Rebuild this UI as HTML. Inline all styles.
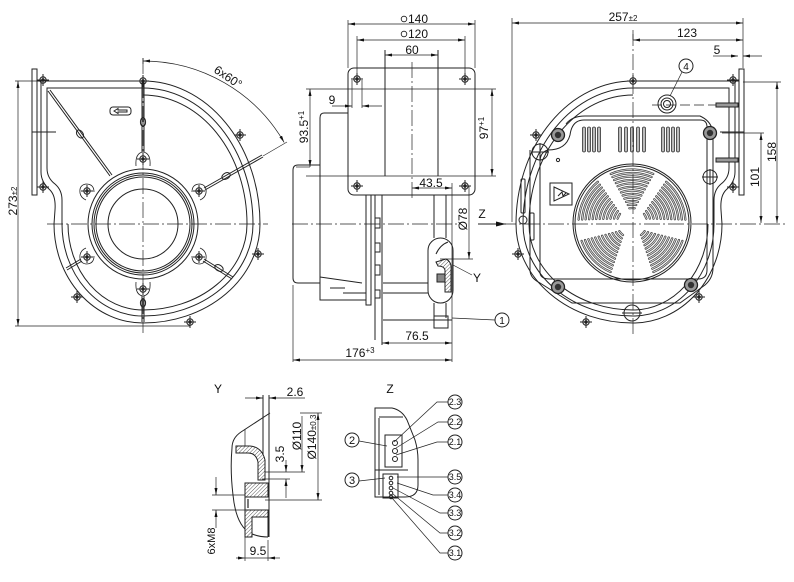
<!DOCTYPE html>
<html><head><meta charset="utf-8"><style>
html,body{margin:0;padding:0;background:#fff}
svg{display:block}
text{font-family:"Liberation Sans",Arial,sans-serif;fill:#111}
</style></head><body>
<svg width="794" height="582" viewBox="0 0 794 582" xmlns="http://www.w3.org/2000/svg" xmlns:xlink="http://www.w3.org/1999/xlink">
<defs>
<marker id="a" viewBox="0 0 7 3" refX="7" refY="1.5" markerWidth="7" markerHeight="3" markerUnits="userSpaceOnUse" orient="auto-start-reverse"><path d="M0 0L7 1.5L0 3z" fill="#111"/></marker>
<marker id="b" viewBox="0 0 10 5" refX="10" refY="2.5" markerWidth="10" markerHeight="5" markerUnits="userSpaceOnUse" orient="auto"><path d="M0 0L10 2.5L0 5z" fill="#111"/></marker>
<pattern id="h" width="2.6" height="2.6" patternUnits="userSpaceOnUse" patternTransform="rotate(45)"><rect width="2.6" height="2.6" fill="#fff"/><line x1="0" y1="0" x2="0" y2="2.6" stroke="#333" stroke-width="0.8"/></pattern>
<g id="lug"><circle r="3.2"/><path d="M-6 0H6M0-6V6"/><circle r="1.2"/></g>
<g id="hs">
 <rect x="32" y="69" width="5" height="126"/>
 <path d="M37 81H143A117 143 0 0 1 260 224A117 99 0 0 1 143 323A89 99 0 0 1 54 224L55 210Q56 196 50 190Q41 182 41 172V81"/>
 <path d="M47 88H143A110 136 0 0 1 253 224A110 92 0 0 1 143 316A81 92 0 0 1 62 224V200Q62 190 55 184Q47 178 47 168Z"/>
 <path d="M143 95A104 129 0 0 1 247 224A104 86 0 0 1 143 310A75 86 0 0 1 68 224"/>
 <path d="M32 132H56"/>
 <use xlink:href="#lug" x="143" y="81"/>
 <use xlink:href="#lug" x="43" y="80"/>
 <use xlink:href="#lug" x="43" y="187"/>
 <use xlink:href="#lug" x="240" y="135"/>
 <use xlink:href="#lug" x="258" y="254"/>
 <use xlink:href="#lug" x="190" y="322"/>
 <use xlink:href="#lug" x="77" y="297"/>
</g>
<path id="sec" d="M-2.6 -14.8A15 15 0 0 1 2.6 -14.8M-4.2 -18A18.5 18.5 0 0 1 4.2 -18M-5.9 -21.2A22 22 0 0 1 5.9 -21.2M-7.6 -24.3A25.5 25.5 0 0 1 7.6 -24.3M-9.3 -27.5A29 29 0 0 1 9.3 -27.5M-11 -30.6A32.5 32.5 0 0 1 11 -30.6M-12.7 -33.7A36 36 0 0 1 12.7 -33.7M-14.4 -36.8A39.5 39.5 0 0 1 14.4 -36.8M-16.1 -39.9A43 43 0 0 1 16.1 -39.9M-17.8 -43A46.5 46.5 0 0 1 17.8 -43M-19.5 -46A50 50 0 0 1 19.5 -46M-21.2 -49.1A53.5 53.5 0 0 1 21.2 -49.1"/>
<g id="grl"><use xlink:href="#sec"/><use xlink:href="#sec" transform="rotate(63)"/><use xlink:href="#sec" transform="rotate(133)"/><use xlink:href="#sec" transform="rotate(-133)"/><use xlink:href="#sec" transform="rotate(-63)"/></g>
<g id="scr"><circle r="6.5" fill="#999" stroke="#222" stroke-width="1.3"/><circle r="3.2" fill="#333"/></g>
</defs>

<!-- ============ LEFT VIEW ============ -->
<g fill="none" stroke="#222" stroke-width="1">
 <use xlink:href="#hs"/>
 <circle cx="143" cy="224" r="35"/>
 <circle cx="143" cy="224" r="47"/>
 <circle cx="143" cy="224" r="49"/>
 <circle cx="143" cy="224" r="51"/>
 <circle cx="143" cy="224" r="55"/>
 <g>
  <use xlink:href="#lug" x="143" y="159"/>
  <use xlink:href="#lug" x="199" y="191"/>
  <use xlink:href="#lug" x="199" y="257"/>
  <use xlink:href="#lug" x="143" y="289"/>
  <use xlink:href="#lug" x="87" y="257"/>
  <use xlink:href="#lug" x="87" y="191"/>
 </g>
 <g stroke-width="0.8">
  <path d="M136 166Q135 153 143 152Q151 153 150 166"/>
  <path d="M192 192Q192 184 200 184Q207 185 206 193Q205 198 200 200"/>
  <path d="M192 256Q192 264 200 264Q207 263 206 255Q205 250 200 248"/>
  <path d="M136 282Q135 295 143 296Q151 295 150 282"/>
  <path d="M94 256Q94 264 86 264Q79 263 80 255Q81 250 86 248"/>
  <path d="M94 192Q94 184 86 184Q79 185 80 193Q81 198 86 200"/>
 </g>
 <path d="M142 152V82M144 152V82"/>
 <ellipse cx="143" cy="122" rx="2.6" ry="4.5"/>
 <path d="M204 188L262 155M205 190L263 157"/>
 <path d="M263 156L287 142" stroke-width="0.6"/>
 <ellipse cx="226" cy="176" rx="3" ry="4.5" transform="rotate(60 226 176)"/>
 <path d="M204 259L233 277M203 261L232 279"/>
 <ellipse cx="219" cy="268" rx="3" ry="4.5" transform="rotate(-60 219 268)"/>
 <path d="M142 296V322M144 296V322"/>
 <ellipse cx="143" cy="303" rx="2.6" ry="4"/>
 <path d="M81 259L66 268M82 261L67 270"/>
 <path d="M110 176L48 91M112 175L50 90"/>
 <ellipse cx="80" cy="134" rx="3" ry="4.5" transform="rotate(-36 80 134)"/>
 <rect x="110" y="107" width="21" height="8" rx="3"/>
 <path d="M114 111L118 108.5V110H127V112H118V113.5Z"/>
 <path d="M47 224H268M143 58V333" stroke-width="0.7" stroke-dasharray="16 3 2 3"/>
 <path d="M143 61A163 163 0 0 1 284.2 142.5" stroke-width="0.7" marker-start="url(#a)" marker-end="url(#a)"/>
 <path d="M143 58V64" stroke-width="0.7"/>
 <path d="M15 81H43M15 326H190" stroke-width="0.7"/>
 <path d="M18 81V326" stroke-width="0.7" marker-start="url(#a)" marker-end="url(#a)"/>
</g>
<text transform="translate(228,77) rotate(34)" font-size="12" text-anchor="middle" dy="4">6x60°</text>
<text transform="translate(17,201) rotate(-90)" font-size="12" text-anchor="middle">273<tspan font-size="8">±2</tspan></text>

<!-- ============ MIDDLE VIEW ============ -->
<g fill="none" stroke="#222" stroke-width="1">
 <rect x="348" y="68" width="127" height="127" rx="6"/>
 <use xlink:href="#lug" x="357" y="79"/>
 <use xlink:href="#lug" x="465" y="79"/>
 <use xlink:href="#lug" x="357" y="186"/>
 <use xlink:href="#lug" x="465" y="186"/>
 <path d="M385 50V176M438 50V176"/>
 <path d="M348 113H324Q320 113 320 118V300H366"/>
 <path d="M320 165H298Q293 165 293 170V278Q293 283 298 283H320"/>
 <path d="M320 277L362 283M343 293H366M330 288H345"/>
 <rect x="366" y="195" width="5" height="110"/>
 <path d="M375 195V340M382 195V345"/>
 <path d="M375 218h5v10h-5M375 243h5v9h-5M375 265h5v10h-5M375 290h5v8h-5"/>
 <path d="M434 195V238M446 195V238M446 303V318M434 303V318"/>
 <path d="M383 283H428M383 293H428M383 320H452"/>
 <rect x="434" y="316" width="14" height="12"/>
 <rect x="428" y="238" width="25" height="65" rx="12.5"/>
 <path d="M436 254Q440 245 448 242"/>
 <path d="M436 262L446 259Q452 262 451 270V292H445V270Q444 266 438 266Z" fill="url(#h)"/>
 <rect x="437" y="274" width="8" height="8" fill="#888"/>
 <path d="M348 20V68M475 20V68M357 36V76M465 36V76" stroke-width="0.7"/>
 <path d="M306 89H496M306 176H496" stroke-width="0.7"/>
 <path d="M352 80V108M362 80V108" stroke-width="0.7"/>
 <path d="M452 183V362M293 285V362" stroke-width="0.7"/>
 <path d="M440 259H473" stroke-width="0.7"/>
 <path d="M348 24H475" stroke-width="0.7" marker-start="url(#a)" marker-end="url(#a)"/>
 <path d="M357 40H465" stroke-width="0.7" marker-start="url(#a)" marker-end="url(#a)"/>
 <path d="M385 55H438" stroke-width="0.7" marker-start="url(#a)" marker-end="url(#a)"/>
 <path d="M310 89V167" stroke-width="0.7" marker-start="url(#a)" marker-end="url(#a)"/>
 <path d="M310 167H296" stroke-width="0.7"/>
 <path d="M492 89V176" stroke-width="0.7" marker-start="url(#a)" marker-end="url(#a)"/>
 <path d="M332 106H352" stroke-width="0.7" marker-end="url(#a)"/>
 <path d="M382 106H362" stroke-width="0.7" marker-end="url(#a)"/>
 <path d="M412 188H452" stroke-width="0.7" marker-start="url(#a)" marker-end="url(#a)"/>
 <path d="M469 186V259" stroke-width="0.7" marker-end="url(#a)"/>
 <path d="M382 343H452" stroke-width="0.7" marker-start="url(#a)" marker-end="url(#a)"/>
 <path d="M293 360H452" stroke-width="0.7" marker-start="url(#a)" marker-end="url(#a)"/>
 <path d="M292 224H458M412 62V200" stroke-width="0.7" stroke-dasharray="16 3 2 3"/>
 <path d="M478 224H506" stroke-width="0.9" marker-end="url(#b)"/>
 <path d="M453 265L472 275M452 318L495 320" stroke-width="0.7"/>
 <circle cx="502" cy="320" r="7"/>
</g>
<circle cx="404" cy="19" r="2.8" fill="none" stroke="#111" stroke-width="0.8"/>
<text x="408" y="23" font-size="12">140</text>
<circle cx="404" cy="34" r="2.8" fill="none" stroke="#111" stroke-width="0.8"/>
<text x="408" y="38" font-size="12">120</text>
<text x="412" y="54" font-size="12" text-anchor="middle">60</text>
<text x="332" y="104" font-size="12" text-anchor="middle">9</text>
<text transform="translate(308,127) rotate(-90)" font-size="12" text-anchor="middle">93.5<tspan font-size="8" dy="-4">+1</tspan></text>
<text transform="translate(488,128) rotate(-90)" font-size="12" text-anchor="middle">97<tspan font-size="8" dy="-4">+1</tspan></text>
<text x="431" y="187" font-size="12" text-anchor="middle">43.5</text>
<text transform="translate(467,219) rotate(-90)" font-size="12" text-anchor="middle">Ø78</text>
<text x="482" y="218" font-size="12" text-anchor="middle">Z</text>
<text x="477" y="282" font-size="12" text-anchor="middle">Y</text>
<text x="502" y="324" font-size="10" text-anchor="middle">1</text>
<text x="417" y="340" font-size="12" text-anchor="middle">76.5</text>
<text x="360" y="357" font-size="12" text-anchor="middle">176<tspan font-size="8" dy="-4">+3</tspan></text>

<!-- ============ RIGHT VIEW ============ -->
<g fill="none" stroke="#222" stroke-width="1">
 <use xlink:href="#hs" transform="translate(776,0) scale(-1,1)"/>
 <path d="M530 150V270Q530 278 540 283L572 303H680L705 285Q713 278 713 268V135Q713 122 700 116H585Q572 116 566 124"/>
 <path d="M540 272V162Q540 152 548 150Q566 150 570 135Q572 120 584 120H700Q707 120 707 127V270Q707 279 698 279H550Q540 279 540 272Z"/>
 <circle cx="540" cy="152" r="8"/>
 <path d="M531 152H549M540 143V161"/>
 <circle cx="710" cy="177" r="7"/>
 <path d="M702 177H718M710 169V185"/>
 <circle cx="632" cy="313" r="8"/>
 <path d="M622 313H642"/>
 <circle cx="558" cy="160" r="1.6"/>
 <rect x="521" y="179" width="4" height="34" rx="1"/>
 <rect x="530" y="213" width="4" height="27" rx="1"/>
 <circle cx="523" cy="220" r="4"/>
 <rect x="550" y="183" width="22" height="22"/>
 <path d="M554 187L569 194L554 201Z"/>
 <path d="M558 196L562 192L563 196L566 193"/>
 <circle cx="667" cy="104" r="9"/>
 <circle cx="667" cy="104" r="6"/>
 <circle cx="667" cy="104" r="3.5"/>
 <circle cx="686" cy="66" r="7"/>
 <path d="M682 72L670 96" stroke-width="0.7"/>
 <path d="M652 105H716" stroke-width="0.7" stroke-dasharray="10 4"/>
 <rect x="716" y="103" width="22" height="4" fill="#999"/>
 <rect x="716" y="158" width="22" height="4" fill="#999"/>
 <circle cx="632" cy="223" r="57"/>
 <circle cx="632" cy="223" r="59"/>
</g>
<g transform="translate(632,223)" fill="none" stroke-linecap="round">
 <use xlink:href="#grl" stroke="#444" stroke-width="2.3"/>
 <use xlink:href="#grl" stroke="#e4e4e4" stroke-width="0.8"/>
</g>
<g fill="#bbb" stroke="#333" stroke-width="0.8">
 <rect x="582.5" y="127" width="3" height="25" rx="1.5"/>
 <rect x="587.5" y="127" width="3" height="25" rx="1.5"/>
 <rect x="592.5" y="127" width="3" height="25" rx="1.5"/>
 <rect x="597.5" y="127" width="3" height="25" rx="1.5"/>
 <rect x="618.5" y="127" width="3" height="25" rx="1.5"/>
 <rect x="624.5" y="127" width="3" height="25" rx="1.5"/>
 <rect x="630.5" y="127" width="3" height="25" rx="1.5"/>
 <rect x="636.5" y="127" width="3" height="25" rx="1.5"/>
 <rect x="642.5" y="127" width="3" height="25" rx="1.5"/>
 <rect x="661.5" y="127" width="3" height="25" rx="1.5"/>
 <rect x="666.5" y="127" width="3" height="25" rx="1.5"/>
 <rect x="671.5" y="127" width="3" height="25" rx="1.5"/>
 <rect x="676.5" y="127" width="3" height="25" rx="1.5"/>
</g>
<use xlink:href="#scr" x="558" y="135"/>
<use xlink:href="#scr" x="710" y="133"/>
<use xlink:href="#scr" x="558" y="287"/>
<use xlink:href="#scr" x="691" y="285"/>
<g fill="none" stroke="#222" stroke-width="0.7">
 <path d="M500 224H785M633 30V336" stroke-dasharray="16 3 2 3"/>
 <path d="M512 18V222M743 18V68M633 34V40"/>
 <path d="M743 82H781M722 133H764"/>
 <path d="M512 23H743" marker-start="url(#a)" marker-end="url(#a)"/>
 <path d="M633 40H743" marker-start="url(#a)" marker-end="url(#a)"/>
 <path d="M728 56H738" marker-end="url(#a)"/>
 <path d="M762 56H743" marker-end="url(#a)"/>
 <path d="M713 56H728"/>
 <path d="M777 82V223" marker-start="url(#a)" marker-end="url(#a)"/>
 <path d="M761 133V223" marker-start="url(#a)" marker-end="url(#a)"/>
</g>
<text x="623" y="21" font-size="12" text-anchor="middle">257<tspan font-size="8">±2</tspan></text>
<text x="687" y="37" font-size="12" text-anchor="middle">123</text>
<text x="717" y="54" font-size="12" text-anchor="middle">5</text>
<text x="686" y="70" font-size="10" text-anchor="middle">4</text>
<text transform="translate(776,152) rotate(-90)" font-size="12" text-anchor="middle">158</text>
<text transform="translate(759,177) rotate(-90)" font-size="12" text-anchor="middle">101</text>

<!-- ============ DETAIL Y ============ -->
<text x="218" y="393" font-size="12" text-anchor="middle">Y</text>
<g fill="none" stroke="#222" stroke-width="1">
 <path d="M270 413L241 432Q232 438 232 448Q230 470 233 495Q236 525 250 533Q258 537 268 537"/>
 <path d="M263 395V470M269 395V537"/>
 <path d="M236 446H250Q262 447 265 460V480H258V462Q256 453 248 453H236Z" fill="url(#h)"/>
 <path d="M245 483H268V497H245Z" fill="url(#h)"/>
 <path d="M245 510H268V517H252V537H245Z" fill="url(#h)"/>
 <path d="M245 497V510M252 517H268V537"/>
 <path d="M248 499V508" stroke-width="1.2"/>
 <path d="M245 429V446" stroke-width="0.7"/>
 <path d="M245 398H263" stroke-width="0.7" marker-end="url(#a)"/>
 <path d="M305 398H269" stroke-width="0.7" marker-end="url(#a)"/>
 <path d="M300 413H322M265 472H305M265 500H322M262 479H290" stroke-width="0.7"/>
 <path d="M302 416V472" stroke-width="0.7" marker-end="url(#a)"/>
 <path d="M318 413V500" stroke-width="0.7" marker-start="url(#a)" marker-end="url(#a)"/>
 <path d="M286 460V472" stroke-width="0.7" marker-end="url(#a)"/>
 <path d="M286 498V479" stroke-width="0.7" marker-end="url(#a)"/>
 <path d="M212 495H245M212 510H245" stroke-width="0.7"/>
 <path d="M216 477V495" stroke-width="0.7" marker-end="url(#a)"/>
 <path d="M216 528V510" stroke-width="0.7" marker-end="url(#a)"/>
 <path d="M245 537V561M268 540V561" stroke-width="0.7"/>
 <path d="M236 558H245" stroke-width="0.7" marker-end="url(#a)"/>
 <path d="M280 558H268" stroke-width="0.7" marker-end="url(#a)"/>
 <path d="M245 558H268" stroke-width="0.7"/>
</g>
<text x="295" y="396" font-size="12" text-anchor="middle">2.6</text>
<text transform="translate(301,436) rotate(-90)" font-size="12" text-anchor="middle">Ø110</text>
<text transform="translate(316,437) rotate(-90)" font-size="12" text-anchor="middle">Ø140<tspan font-size="8">±0.3</tspan></text>
<text transform="translate(284,454) rotate(-90)" font-size="12" text-anchor="middle">3.5</text>
<text transform="translate(215,541) rotate(-90)" font-size="11" text-anchor="middle">6xM8</text>
<text x="258" y="555" font-size="12" text-anchor="middle">9.5</text>

<!-- ============ DETAIL Z ============ -->
<text x="390" y="393" font-size="12" text-anchor="middle">Z</text>
<g fill="none" stroke="#222" stroke-width="1">
 <path d="M375 408H392Q402 410 407 420L415 440Q418 450 418 460V485Q418 497 405 497H375Z"/>
 <path d="M379 418V495M379 417H403"/>
 <path d="M375 470H408"/>
 <rect x="385" y="435" width="17" height="32"/>
 <circle cx="395" cy="443" r="2.5"/><circle cx="395" cy="451" r="2.5"/><circle cx="395" cy="459" r="2.5"/>
 <rect x="383" y="474" width="15" height="24"/>
 <circle cx="391" cy="478" r="1.8"/><circle cx="391" cy="483" r="1.8"/><circle cx="391" cy="488" r="1.8"/><circle cx="391" cy="493" r="1.8"/><circle cx="391" cy="497" r="1.8"/>
 <g stroke-width="0.7">
  <path d="M448 402H437L394 442"/>
  <path d="M448 422H438L396 448"/>
  <path d="M448 442H437L396 455"/>
  <path d="M448 477H397"/>
  <path d="M448 495H433L397 483"/>
  <path d="M448 513H440L393 488"/>
  <path d="M448 533H440L393 494"/>
  <path d="M448 553H440L392 498"/>
  <path d="M359 441L387 446M359 481L385 478"/>
 </g>
 <circle cx="455" cy="402" r="7"/><circle cx="455" cy="422" r="7"/><circle cx="455" cy="442" r="7"/>
 <circle cx="455" cy="477" r="7"/><circle cx="455" cy="495" r="7"/><circle cx="455" cy="513" r="7"/>
 <circle cx="455" cy="533" r="7"/><circle cx="455" cy="553" r="7"/>
 <circle cx="352" cy="440" r="7"/><circle cx="352" cy="480" r="7"/>
</g>
<g font-size="9" text-anchor="middle">
 <text x="455" y="405">2.3</text><text x="455" y="425">2.2</text><text x="455" y="445">2.1</text>
 <text x="455" y="480">3.5</text><text x="455" y="498">3.4</text><text x="455" y="516">3.3</text>
 <text x="455" y="536">3.2</text><text x="455" y="556">3.1</text>
 <text x="352" y="444" font-size="11">2</text><text x="352" y="484" font-size="11">3</text>
</g>
</svg>
</body></html>
